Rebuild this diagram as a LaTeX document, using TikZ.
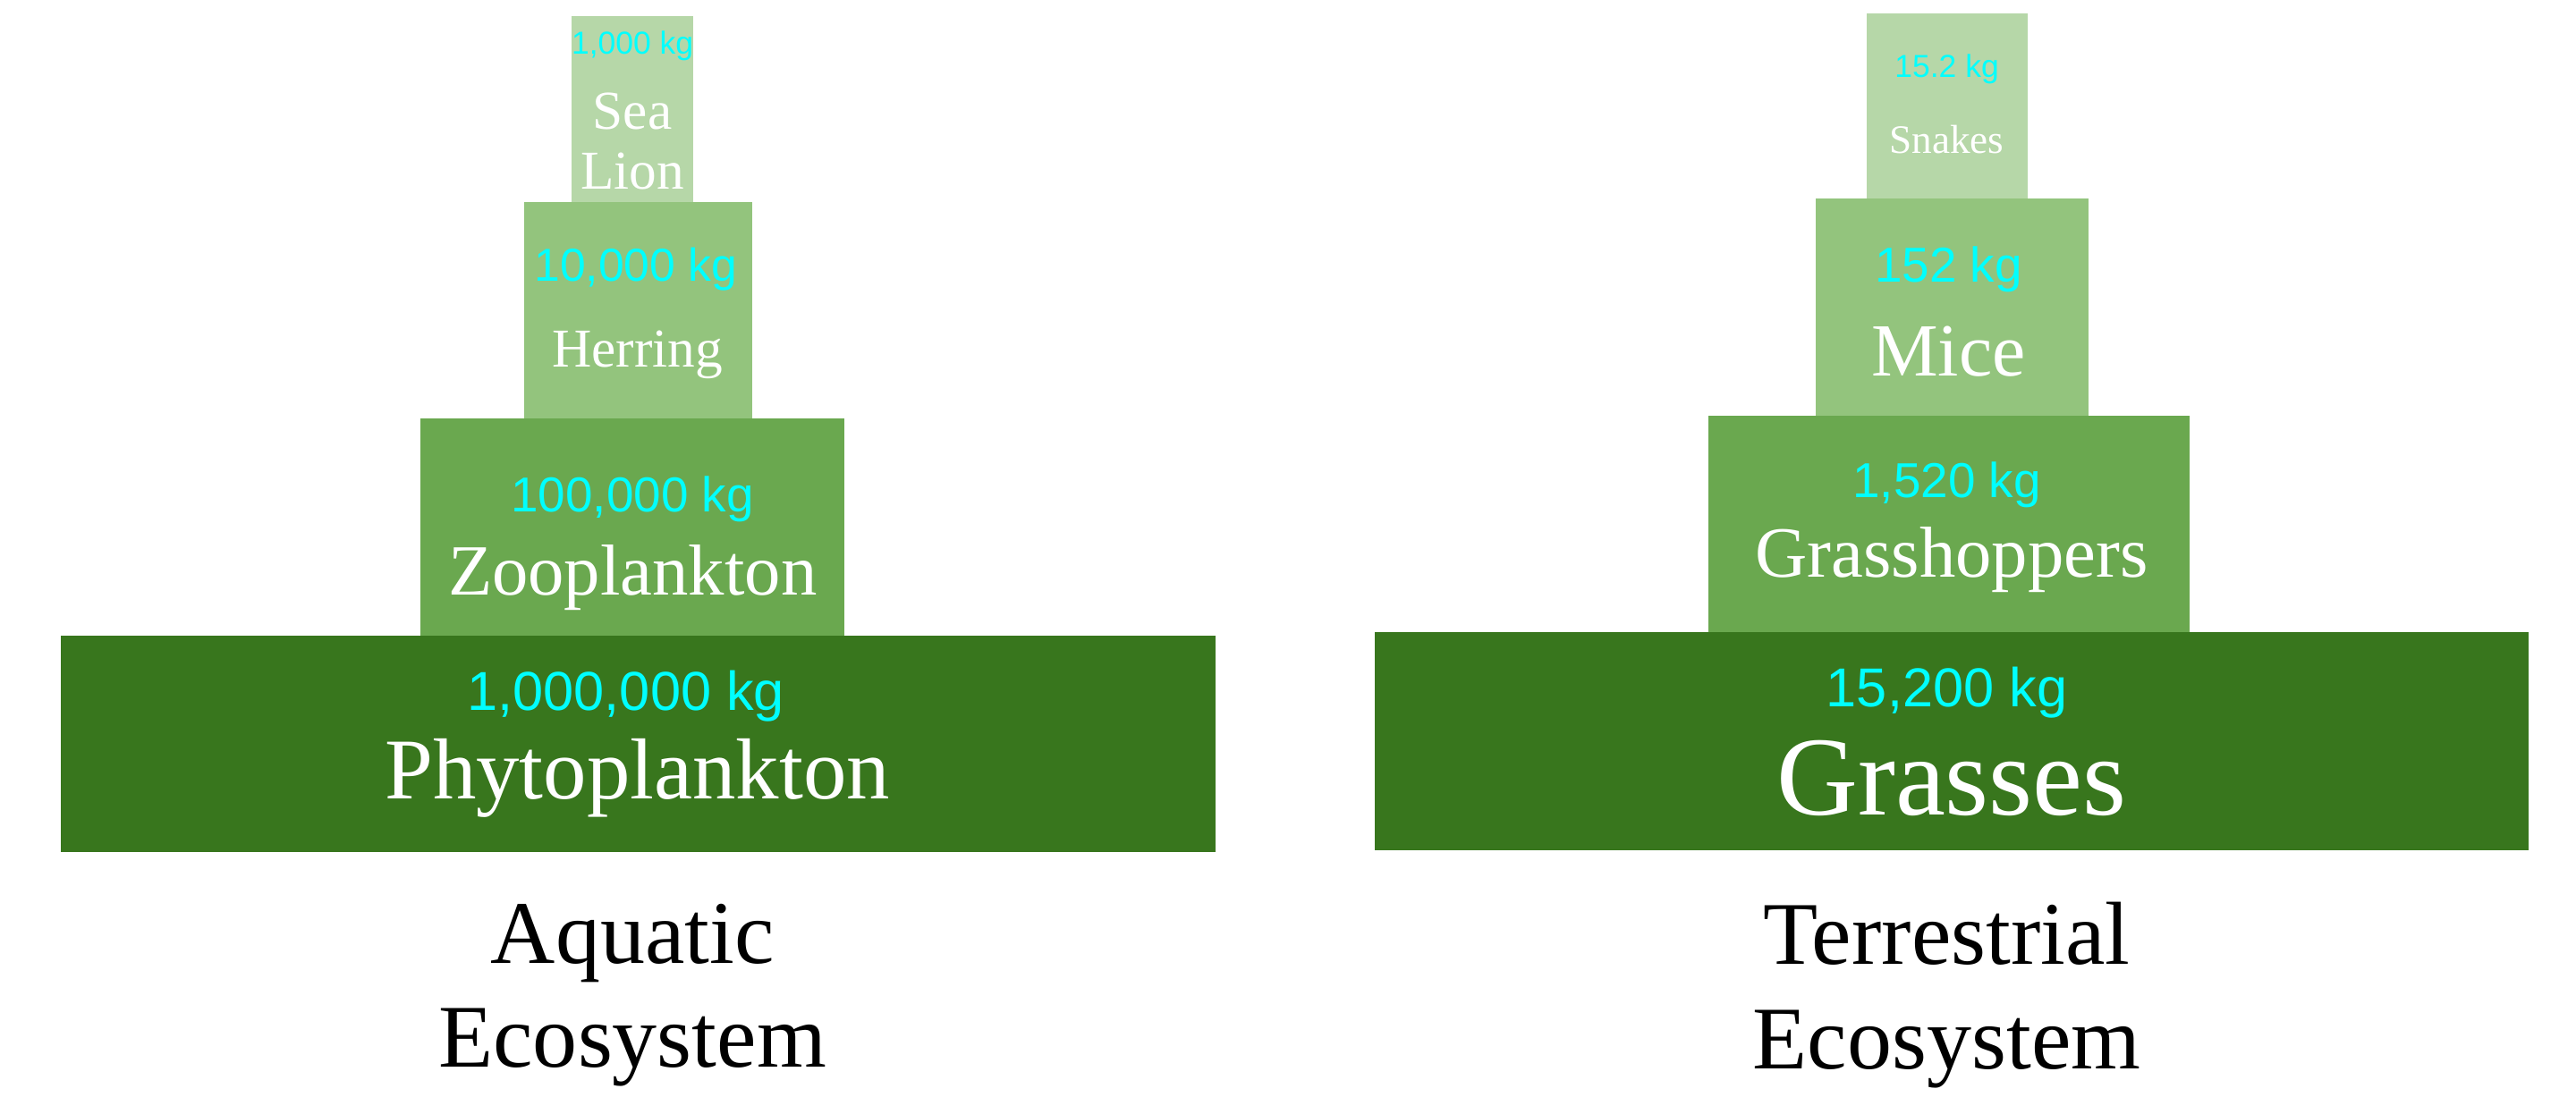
\documentclass[tikz,border=0pt]{standalone}
\usepackage{fontspec}
\setmainfont{Liberation Serif}
\newfontfamily\numfont{Liberation Sans}
\begin{document}
\begin{tikzpicture}[x=0.02cm,y=-0.02cm]
\definecolor{gA}{HTML}{38761D}
\definecolor{gB}{HTML}{6AA84F}
\definecolor{gC}{HTML}{93C47D}
\definecolor{gD}{HTML}{B6D7A8}
\definecolor{cy}{HTML}{00FFFF}
\tikzset{lvl/.style={fill=#1,draw=none},
 num/.style={text=cy,font=\numfont\fontsize{#1}{#1}\selectfont,inner sep=0},
 lab/.style={text=white,font=\fontsize{#1}{#1}\selectfont,inner sep=0,align=center},
 captxt/.style={text=black,font=\fontsize{31}{36}\selectfont,align=center,inner sep=0}}
\useasboundingbox (0,0) rectangle (1568,678);
% Aquatic
\path[lvl=gA] (37,387) rectangle (740,519);
\path[lvl=gB] (256,255) rectangle (514,387);
\path[lvl=gC] (319,123) rectangle (458,255);
\path[lvl=gD] (348,10) rectangle (422,123);
\node[num=19] (n1) at (381,424) {1,000,000 kg};
\node[lab=30] (l1) at (388,474) {Phytoplankton};
\node[num=17] (n2) at (385,304) {100,000 kg};
\node[lab=25] (l2) at (385,352) {Zooplankton};
\node[num=16] (n3) at (387,164) {10,000 kg};
\node[lab=19] (l3) at (388,216) {Herring};
\node[num=11] (n4) at (385,28) {1,000 kg};
\node[lab=19,font=\fontsize{19}{21}\selectfont] (l4) at (385,86) {Sea\\Lion};
\node[captxt] (c1) at (385,606) {Aquatic\\Ecosystem};
% Terrestrial
\path[lvl=gA] (837,385) rectangle (1539,518);
\path[lvl=gB] (1040,253) rectangle (1333,385);
\path[lvl=gC] (1105,121) rectangle (1271,253);
\path[lvl=gD] (1136,8) rectangle (1234,121);
\node[num=19] (m1) at (1185,422) {15,200 kg};
\node[lab=39] (k1) at (1188,474) {Grasses};
\node[num=17] (m2) at (1185,295) {1,520 kg};
\node[lab=25] (k2) at (1188,341) {Grasshoppers};
\node[num=17] (m3) at (1186,164) {152 kg};
\node[lab=26] (k3) at (1186,214) {Mice};
\node[num=11] (m4) at (1185,42) {15.2 kg};
\node[lab=14] (k4) at (1185,85) {Snakes};
\node[captxt] (c2) at (1185,606) {Terrestrial\\Ecosystem};
\end{tikzpicture}
\end{document}
